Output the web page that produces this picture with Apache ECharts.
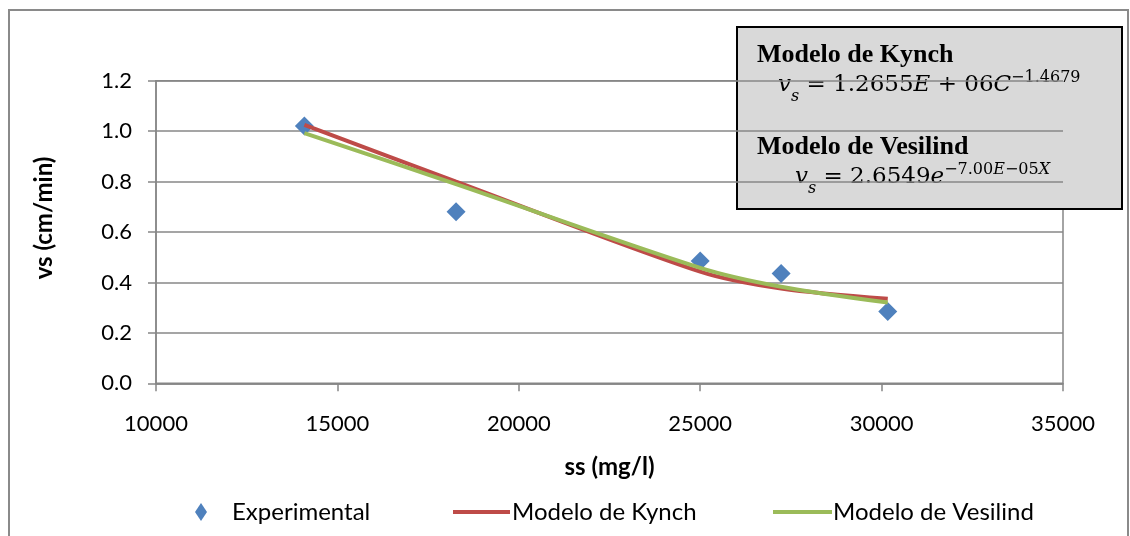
<!DOCTYPE html>
<html>
<head>
<meta charset="utf-8">
<script src="https://cdn.jsdelivr.net/npm/echarts@6/dist/echarts.min.js"></script>
<style>
  html, body { margin: 0; padding: 0; background: #ffffff; }
  #chart { width: 1130px; height: 536px; }
</style>
</head>
<body>
<div id="chart"></div>
<script>
// Suspended solids concentration (mg/l) of each test
const ssValues = [14090, 18270, 25000, 27230, 30170];
// Measured settling velocity (cm/min)
const vsExperimental = [1.02, 0.68, 0.485, 0.435, 0.285];
// Fitted model velocities at the same concentrations
const vsKynch = [1.025, 0.80, 0.443, 0.376, 0.335];
const vsVesilind = [0.992, 0.79, 0.458, 0.383, 0.320];

const xTicks = { min: 10000, max: 35000, interval: 5000 };
const yTicks = { min: 0, max: 1.2, interval: 0.2 };

const seriesNames = ['Experimental', 'Modelo de Kynch', 'Modelo de Vesilind'];

const pairs = (xs, ys) => xs.map((x, i) => [x, ys[i]]);

const sansFont = 'Lato';
const mathFont = 'DejaVu Serif';
const axisGray = '#878787';
const colors = { exp: '#4F81BD', kynch: '#BE4B48', vesilind: '#9BBB59' };

const chart = echarts.init(document.getElementById('chart'), null, { renderer: 'canvas' });

const legendBase = {
  top: 500,
  padding: 0,
  textStyle: { fontFamily: sansFont, fontSize: 24, color: '#000' }
};

// rich-text styles for the equations: every fragment hangs from the line top;
// top padding lowers the body text and the subscript below the exponents
const mathRich = {
  n: { fontFamily: mathFont, fontSize: 23, lineHeight: 22, padding: [4, 0, 0, 0], verticalAlign: 'top', fill: '#000' },
  it: { fontFamily: mathFont, fontSize: 23, fontStyle: 'italic', lineHeight: 22, padding: [4, 0, 0, 0], verticalAlign: 'top', fill: '#000' },
  sub: { fontFamily: mathFont, fontSize: 16, fontStyle: 'italic', lineHeight: 16, padding: [19, 0, 0, 0], verticalAlign: 'top', fill: '#000' },
  sup: { fontFamily: mathFont, fontSize: 16, lineHeight: 16, verticalAlign: 'top', fill: '#000' },
  supi: { fontFamily: mathFont, fontSize: 16, fontStyle: 'italic', lineHeight: 16, verticalAlign: 'top', fill: '#000' }
};

chart.setOption({
  backgroundColor: '#ffffff',
  animation: false,
  grid: {
    left: 156, right: 67, top: 80.7, bottom: 152.7,
    show: true, borderColor: axisGray, borderWidth: 1.5
  },
  xAxis: {
    type: 'value',
    min: xTicks.min, max: xTicks.max, interval: xTicks.interval,
    name: 'ss (mg/l)',
    nameLocation: 'middle',
    nameGap: 72,
    nameTextStyle: { fontFamily: sansFont, fontSize: 24, fontWeight: 'bold', color: '#000' },
    axisLine: { show: true, lineStyle: { color: axisGray, width: 1.5 } },
    axisTick: { show: true, inside: false, length: 8, lineStyle: { color: axisGray, width: 1.5 } },
    axisLabel: {
      margin: 30, fontFamily: sansFont, fontSize: 22, color: '#000',
      formatter: v => String(v)
    },
    splitLine: { show: false }
  },
  yAxis: {
    type: 'value',
    min: yTicks.min, max: yTicks.max, interval: yTicks.interval,
    name: 'vs (cm/min)',
    nameLocation: 'middle',
    nameGap: 100,
    nameTextStyle: {
      fontFamily: sansFont, fontSize: 24, fontWeight: 'bold', color: '#000',
      padding: [0, 0, 0, 28]
    },
    axisLine: { show: true, lineStyle: { color: axisGray, width: 1.5 } },
    axisTick: { show: true, inside: false, length: 8, lineStyle: { color: axisGray, width: 1.5 } },
    axisLabel: {
      margin: 24, fontFamily: sansFont, fontSize: 22, color: '#000',
      formatter: v => v.toFixed(1)
    },
    splitLine: { show: true, lineStyle: { color: axisGray, width: 1.5 } }
  },
  legend: [
    Object.assign({}, legendBase, {
      left: 195, itemWidth: 12, itemHeight: 18,
      itemStyle: { color: colors.exp },
      textStyle: Object.assign({}, legendBase.textStyle, { padding: [0, 0, 0, 20] }),
      data: [{ name: seriesNames[0], icon: 'diamond' }]
    }),
    Object.assign({}, legendBase, {
      left: 453, itemWidth: 57, itemHeight: 4,
      textStyle: Object.assign({}, legendBase.textStyle, { padding: [0, 0, 0, -3] }),
      data: [{ name: seriesNames[1], icon: 'rect' }]
    }),
    Object.assign({}, legendBase, {
      left: 773, itemWidth: 59, itemHeight: 4,
      textStyle: Object.assign({}, legendBase.textStyle, { padding: [0, 0, 0, -4] }),
      data: [{ name: seriesNames[2], icon: 'rect' }]
    })
  ],
  series: [
    {
      name: seriesNames[0],
      type: 'scatter',
      symbol: 'diamond',
      symbolSize: 19,
      itemStyle: { color: colors.exp, opacity: 1 },
      data: pairs(ssValues, vsExperimental)
    },
    {
      name: seriesNames[1],
      type: 'line',
      smooth: 0.3,
      showSymbol: false,
      symbol: 'none',
      lineStyle: { color: colors.kynch, width: 4 },
      itemStyle: { color: colors.kynch },
      data: pairs(ssValues, vsKynch)
    },
    {
      name: seriesNames[2],
      type: 'line',
      smooth: 0.3,
      showSymbol: false,
      symbol: 'none',
      lineStyle: { color: colors.vesilind, width: 4 },
      itemStyle: { color: colors.vesilind },
      data: pairs(ssValues, vsVesilind)
    }
  ],
  graphic: [
    // outer chart frame
    {
      type: 'rect', silent: true, z: 0,
      shape: { x: 9, y: 10, width: 1119, height: 540 },
      style: { fill: 'none', stroke: '#8a8a8a', lineWidth: 2 }
    },
    // equations box
    {
      type: 'group', z: 100,
      children: [
        {
          type: 'rect',
          shape: { x: 737, y: 27, width: 385, height: 182 },
          style: { fill: '#D9D9D9', stroke: '#000', lineWidth: 2 }
        },
        {
          type: 'text', x: 757, y: 55,
          style: { text: 'Modelo de Kynch', font: 'bold 26px "Liberation Serif"', fill: '#000', verticalAlign: 'middle' }
        },
        {
          type: 'text', x: 778, y: 70,
          style: {
            text: '{it|v}{sub|s}{n| = 1.2655}{it|E}{n| + 06}{it|C}{sup|−1.4679}',
            verticalAlign: 'top',
            rich: mathRich
          }
        },
        {
          type: 'text', x: 757, y: 147,
          style: { text: 'Modelo de Vesilind', font: 'bold 26px "Liberation Serif"', fill: '#000', verticalAlign: 'middle' }
        },
        {
          type: 'text', x: 795, y: 162,
          style: {
            text: '{it|v}{sub|s}{n| = 2.6549}{it|e}{sup|−7.00}{supi|E}{sup|−05}{supi|X}',
            verticalAlign: 'top',
            rich: mathRich
          }
        }
      ]
    }
  ]
});
</script>
</body>
</html>
